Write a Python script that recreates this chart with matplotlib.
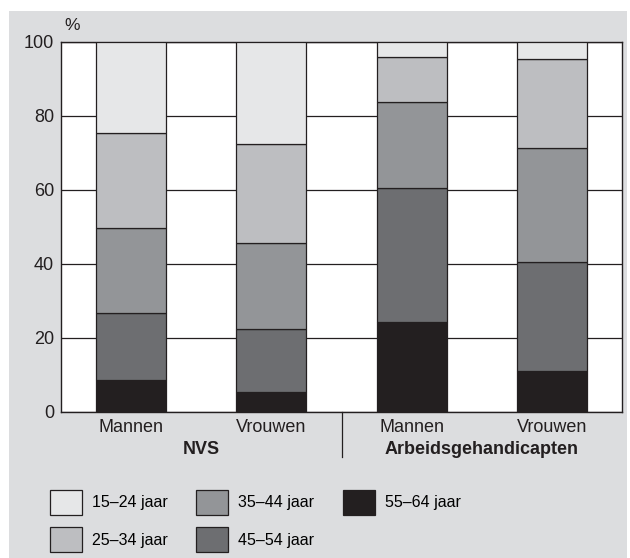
import matplotlib.pyplot as plt
from matplotlib.patches import Rectangle, Patch
import numpy as np

plt.rcParams['font.family'] = ['Liberation Sans', 'DejaVu Sans']

# data: share per age group (%), bars: NVS M, NVS V, Arb M, Arb V
bar_labels = ['Mannen', 'Vrouwen', 'Mannen', 'Vrouwen']
groups = ['NVS', 'Arbeidsgehandicapten']
age_55_64 = [8.6, 5.3, 24.4, 11.1]
age_45_54 = [18.2, 17.0, 36.2, 29.4]
age_35_44 = [23.0, 23.3, 23.1, 30.9]
age_25_34 = [25.5, 26.8, 12.2, 23.9]
age_15_24 = [24.7, 27.6, 4.1, 4.7]

series = [
    ('55\u201364 jaar', age_55_64, '#231f20'),
    ('45\u201354 jaar', age_45_54, '#6d6e71'),
    ('35\u201344 jaar', age_35_44, '#939598'),
    ('25\u201334 jaar', age_25_34, '#bdbec1'),
    ('15\u201324 jaar', age_15_24, '#e6e7e8'),
]

W, H = 630, 558
fig = plt.figure(figsize=(W / 100, H / 100), dpi=100)
fig.patches.append(Rectangle((9 / W, 0), 618 / W, 1 - 11 / H, transform=fig.transFigure,
                             facecolor='#dcdddf', edgecolor='none', zorder=-10))

ax = fig.add_axes([61 / W, 1 - 412 / H, 561 / W, 370 / H])
ax.set_facecolor('white')

x = np.arange(len(bar_labels))
bottom = np.zeros(len(bar_labels))
for name, vals, col in series:
    ax.bar(x, vals, 0.5, bottom=bottom, color=col, edgecolor='#231f20', linewidth=0.9, zorder=3)
    bottom += np.array(vals)

fs = 13
ax.set_xlim(-0.5, 3.5)
ax.set_ylim(0, 100)
ax.set_yticks([0, 20, 40, 60, 80, 100])
ax.yaxis.grid(True, color='#231f20', linewidth=0.9, zorder=1)
ax.set_axisbelow(True)
for s in ax.spines.values():
    s.set_color('#231f20')
    s.set_linewidth(1.0)
ax.tick_params(axis='y', length=0, pad=5, labelsize=fs, colors='#231f20')
ax.tick_params(axis='x', length=0, pad=5, labelsize=fs, colors='#231f20')
ax.set_xticks(x)
ax.set_xticklabels(bar_labels)

ax.text(-0.42, 102.5, '%', fontsize=12.5, color='#231f20', ha='center', va='bottom')

trans = ax.get_xaxis_transform()
ax.text(0.5, -0.10, groups[0], transform=trans, ha='center', va='center',
        fontsize=fs, fontweight='bold', color='#231f20')
ax.text(2.5, -0.10, groups[1], transform=trans, ha='center', va='center',
        fontsize=fs, fontweight='bold', color='#231f20')
ax.plot([1.5, 1.5], [0, -0.122], transform=trans, color='#231f20', linewidth=0.9, clip_on=False)

# legend
leg_order = [4, 3, 2, 1, 0]
handles = [Patch(facecolor=series[i][2], edgecolor='#231f20', linewidth=0.9) for i in leg_order]
labels = [series[i][0] for i in leg_order]
fig.legend(handles, labels, ncol=3, loc='upper left', bbox_to_anchor=(50 / W, 1 - 490 / H),
           frameon=False, fontsize=11.5, handlelength=2.0, handleheight=2.0,
           handletextpad=0.63, columnspacing=1.78, labelspacing=0.78, borderpad=0,
           borderaxespad=0)

fig.savefig('out.png', dpi=100)
